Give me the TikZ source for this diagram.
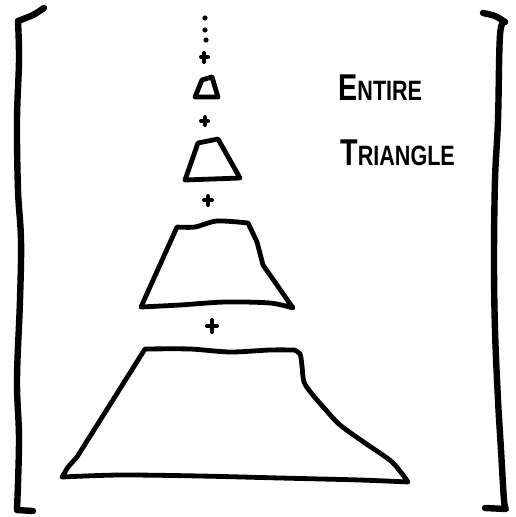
\documentclass[tikz,border=0pt]{standalone}
\usepackage{fontspec}
\newfontfamily\handfont{Liberation Sans}
\newcommand{\hbigletter}[1]{{\fontsize{28}{30}\selectfont #1}}
\newcommand{\hsmallletters}[1]{{\fontsize{21}{24}\selectfont #1}}
\begin{document}
\begin{tikzpicture}[x=0.75pt,y=-0.75pt,
  ink/.style={line cap=round,line join=round,draw=black},
  brk/.style={ink,line width=4.8pt},
  trap/.style={ink,line width=3.6pt},
  plussign/.style={ink,line width=3pt},
  lbl/.style={font=\handfont\bfseries,anchor=base west,inner sep=0pt}]
\useasboundingbox (0,0) rectangle (515,517);
% left bracket
\draw[brk] plot[smooth,tension=0.5] coordinates {(44,8) (33,15) (18,21)};
\draw[brk] plot[smooth,tension=0.6] coordinates {(18,21) (19,60) (17,120) (18,190) (21,240) (20,300) (17,380) (19,440) (17,510)} -- (33,511);
% right bracket
\draw[brk] plot[smooth,tension=0.5] coordinates {(483,13) (495,16) (505,22)};
\draw[brk] plot[smooth,tension=0.6] coordinates {(505,22) (500,35) (498,120) (495,180) (494,260) (495,330) (498,400) (501,450) (504,500) (506,509)} -- (485,508);
% dots
\fill (205,18) circle (2.6);
\fill (205,30) circle (2.6);
\fill (206,40) circle (2.6);
% plus signs
\draw[plussign] (201,57) -- (208,57) (204,53) -- (204,62);
\draw[plussign] (201,121) -- (208,121) (205,117) -- (205,125);
\draw[plussign] (204,200) -- (212,200) (208,196) -- (208,205);
\draw[plussign] (207,326) -- (217,326) (212,320) -- (212,332);
% trapezoid 1
\draw[trap] (195,97) -- (202,80) -- (212,77) -- (218,97) -- cycle;
% trapezoid 2
\draw[trap] plot[smooth,tension=0.3] coordinates {(198,143) (208,141) (218,139)} -- (240,178) -- (185,180) -- cycle;
% trapezoid 3
\draw[trap] plot[smooth,tension=0.5] coordinates {(177,227) (195,227) (217,221) (248,223)} -- (257,242) -- (263,265) -- (293,308)
  -- plot[smooth,tension=0.5] coordinates {(293,308) (270,303) (225,302) (180,305) (141,307)} -- cycle;
% trapezoid 4
\draw[trap] plot[smooth,tension=0.5] coordinates {(145,349) (190,349) (230,352) (270,350) (294,350)}
  -- plot[smooth,tension=0.5] coordinates {(294,350) (300,354) (302,366) (304,382) (312,394) (325,409) (340,425) (365,443) (392,462) (408,482)}
  -- plot[smooth,tension=0.5] coordinates {(408,482) (360,480) (280,478) (200,476) (120,475) (62,477)}
  -- (68,467) -- (77,457) -- cycle;
% labels
\node[lbl] (entire) at (338,100) {\scalebox{0.77}[1]{\hbigletter{E}\hsmallletters{NTIRE}}};
\node[lbl] (triangle) at (340,165) {\scalebox{0.77}[1]{\hbigletter{T}\hsmallletters{RIANGLE}}};
\end{tikzpicture}
\end{document}
